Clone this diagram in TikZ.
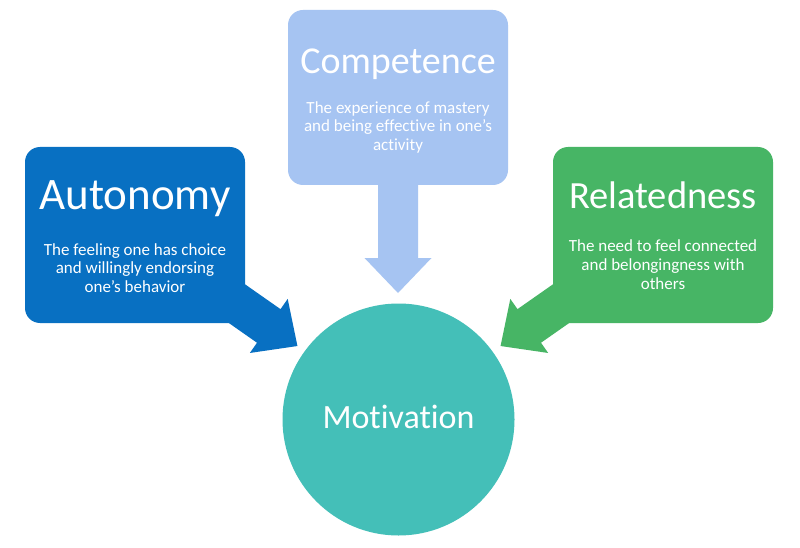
\documentclass[tikz,border=0pt]{standalone}
\usepackage{fontspec}
\setmainfont{Carlito}[Ligatures=NoCommon]
\definecolor{autoblue}{RGB}{8,112,194}
\definecolor{complight}{RGB}{166,196,242}
\definecolor{relgreen}{RGB}{71,181,101}
\definecolor{motteal}{RGB}{68,191,184}
\begin{document}
\begin{tikzpicture}[x=1pt,y=1pt,
  callbox/.style={rectangle, rounded corners=15pt, minimum width=220pt, inner sep=0pt},
  titletext/.style={text=white, anchor=base, inner sep=0pt},
  bodytext/.style={text=white, anchor=base, inner sep=0pt, align=center, font=\fontsize{17}{18.6}\selectfont}
]
\useasboundingbox[fill=white] (0,0) rectangle (800,-548);
% boxes
\node[callbox, fill=autoblue, minimum height=176pt] (auto) at (135,-235) {};
\node[callbox, fill=complight, minimum height=175pt] (comp) at (398,-97.5) {};
\node[callbox, fill=relgreen, minimum height=176pt] (rel) at (663,-235) {};
% arrows
\begin{scope}[shift={(236,-303)}, rotate=-35, autoblue]
  \fill (-40,20.5) -- (40,20.5) -- (40,33) -- (75,0) -- (40,-33) -- (40,-20.5) -- (-40,-20.5) -- cycle;
\end{scope}
\begin{scope}[shift={(398,-223)}, rotate=-90, complight]
  \fill (-40,20) -- (35,20) -- (35,33.5) -- (70,0) -- (35,-33.5) -- (35,-20) -- (-40,-20) -- cycle;
\end{scope}
\begin{scope}[shift={(562,-303)}, rotate=-145, relgreen]
  \fill (-40,20.5) -- (40,20.5) -- (40,33) -- (75,0) -- (40,-33) -- (40,-20.5) -- (-40,-20.5) -- cycle;
\end{scope}
% circle
\node[circle, fill=motteal, minimum size=232pt, inner sep=0pt] (mot) at (398.5,-419.5) {};
% texts
\node[titletext, font=\fontsize{45}{50}\selectfont] (autot) at (135,-209) {Autonomy};
\node[bodytext] (autob) at (135,-292.5) {The feeling one has choice\\and willingly endorsing\\one’s behavior};
\node[titletext, font=\fontsize{38}{44}\selectfont] (compt) at (398,-74) {Competence};
\node[bodytext] (compb) at (398,-150.5) {The experience of mastery\\and being effective in one’s\\activity};
\node[titletext, font=\fontsize{38.5}{44}\selectfont] (relt) at (663,-208) {Relatedness};
\node[bodytext] (relb) at (663,-289) {The need to feel connected\\and belongingness with\\others};
\node[titletext, font=\fontsize{34}{40}\selectfont] (mott) at (398.5,-428) {Motivation};
\end{tikzpicture}
\end{document}
